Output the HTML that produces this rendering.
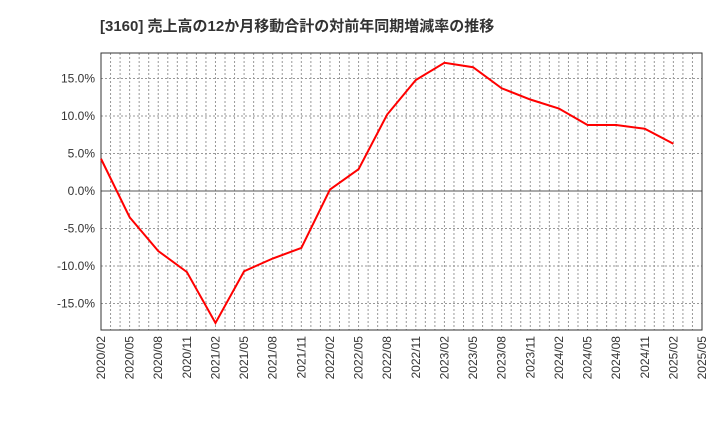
<!DOCTYPE html>
<html><head><meta charset="utf-8"><style>
body{margin:0;background:#fff;}
svg text{font-family:"Liberation Sans","Noto Sans CJK JP",sans-serif;}
</style></head><body>
<svg id="c" width="720" height="440" xmlns="http://www.w3.org/2000/svg">
<text x="100" y="31" font-size="15" font-weight="bold" fill="#333">[3160]  売上高の12か月移動合計の対前年同期増減率の推移</text>
</svg>
<script>
const categories=["2020/02","2020/05","2020/08","2020/11","2021/02","2021/05","2021/08","2021/11","2022/02","2022/05","2022/08","2022/11","2023/02","2023/05","2023/08","2023/11","2024/02","2024/05","2024/08","2024/11","2025/02"];
const values=[4.3,-3.5,-8.0,-10.8,-17.6,-10.7,-9.0,-7.6,0.2,2.9,10.2,14.8,17.1,16.5,13.7,12.2,11.0,8.8,8.8,8.3,6.3];
const xTickLabels=["2020/02","2020/05","2020/08","2020/11","2021/02","2021/05","2021/08","2021/11","2022/02","2022/05","2022/08","2022/11","2023/02","2023/05","2023/08","2023/11","2024/02","2024/05","2024/08","2024/11","2025/02","2025/05"];
const yTicks=[15,10,5,0,-5,-10,-15];
const svg=document.getElementById('c');const NS="http://www.w3.org/2000/svg";
const L=101,R=702,T=53,B=330;
const x=i=>L+i*(R-L)/63; // monthly index
const y=v=>191-v*7.5;
function mk(t,a,p){const e=document.createElementNS(NS,t);for(const k in a)e.setAttribute(k,a[k]);(p||svg).appendChild(e);return e;}
for(let m=1;m<63;m++){const l=mk('line',{x1:x(m),x2:x(m),y1:T,y2:B,stroke:'#999','stroke-dasharray':'2,2','stroke-width':1});

}
yTicks.forEach(v=>{const l=mk('line',{x1:L,x2:R,y1:y(v),y2:y(v),stroke:v===0?'#555':'#999','stroke-dasharray':v===0?'none':'2,2','stroke-width':1});


const t=mk('text',{x:L-6,y:y(v)+4,'text-anchor':'end','font-size':12,fill:'#333'});t.textContent=v.toFixed(1)+'%';

});
xTickLabels.forEach((s,i)=>{const px=x(i*3);const t=mk('text',{transform:`translate(${px+4},${B+6}) rotate(-90)`,'text-anchor':'end','font-size':12,fill:'#333'});t.textContent=s;

});
const fr=mk('rect',{x:L,y:T,width:R-L,height:B-T,fill:'none',stroke:'#333','stroke-width':1});


const pts=values.map((v,i)=>x(i*3)+','+y(v)).join(' ');
const pl=mk('polyline',{points:pts,fill:'none',stroke:'#f00','stroke-width':2});


</script>
</body></html>
